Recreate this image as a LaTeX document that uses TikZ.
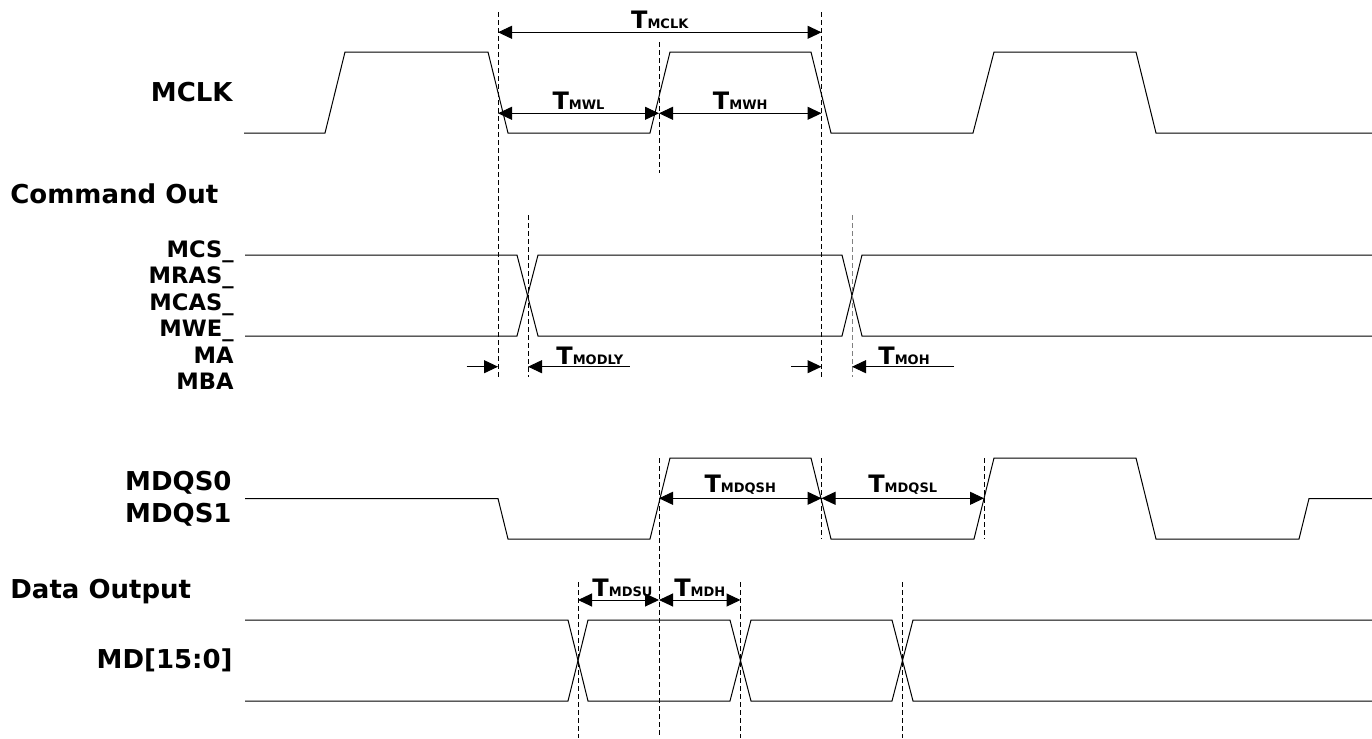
\documentclass[tikz,border=0pt]{standalone}
\usepackage{fontspec}
\setmainfont{DejaVu Sans}
\usetikzlibrary{arrows.meta}
\newcommand{\tlabel}[1]{{\fontsize{12}{12}\selectfont T}{\fontsize{6.5}{6.5}\selectfont #1}}

\begin{document}
\begin{tikzpicture}[x=0.5pt,y=-0.5pt,>={Triangle[length=7pt,width=6.5pt]},font=\bfseries]

    % Define styles
    \tikzstyle{wave} = [line width=0.5pt, line join=miter]
    \tikzstyle{guide} = [line width=0.5pt, dash pattern=on 2.5pt off 1.5pt]
    \tikzstyle{biglabel} = [anchor=base east, inner sep=0, font=\fontsize{13}{13}\selectfont\bfseries]
    \tikzstyle{smalllabel} = [anchor=base east, inner sep=0, font=\fontsize{11.3}{11.3}\selectfont\bfseries]
    \tikzstyle{timing} = [line width=0.5pt]
    \tikzstyle{tlab} = [inner sep=0, above=1.5pt]

    \useasboundingbox (0,0) rectangle (1372,739);

    % Signal names
    \node[biglabel] (mclk) at (233,101.7) {MCLK};
    \node[biglabel, anchor=base west] (cmdout) at (10,203) {Command Out};
    \node[smalllabel] (mcs) at (234,257) {MCS\_};
    \node[smalllabel] (mras) at (234,283.5) {MRAS\_};
    \node[smalllabel] (mcas) at (234,310) {MCAS\_};
    \node[smalllabel] (mwe) at (234,336.5) {MWE\_};
    \node[smalllabel] (ma) at (234,363) {MA};
    \node[smalllabel] (mba) at (234,389.5) {MBA};
    \node[biglabel] (mdqs0) at (232,490) {MDQS0};
    \node[biglabel] (mdqs1) at (232,522.7) {MDQS1};
    \node[biglabel, anchor=base west] (dataout) at (10,598) {Data Output};
    \node[biglabel] (md) at (233,668) {MD[15:0]};

    % Waveforms
    \draw[wave] (244,133) -- (325,133) -- (345,52) -- (488,52) -- (508,133) -- (650,133) -- (670,52) -- (811,52) -- (831,133) -- (973,133) -- (994,52) -- (1136,52) -- (1156,133) -- (1372,133);
    \draw[wave] (245,255) -- (517,255) -- (538,336) -- (842,336) -- (862,255) -- (1372,255);
    \draw[wave] (245,336) -- (517,336) -- (538,255) -- (842,255) -- (862,336) -- (1372,336);
    \draw[wave] (245,498.5) -- (498,498.5) -- (508,539) -- (650,539) -- (670,458) -- (811,458) -- (831,539) -- (974,539) -- (994,458) -- (1136,458) -- (1156,539) -- (1299,539) -- (1309,498.5) -- (1372,498.5);
    \draw[wave] (245,620) -- (568,620) -- (588,701) -- (730,701) -- (751,620) -- (892,620) -- (913,701) -- (1372,701);
    \draw[wave] (245,701) -- (568,701) -- (588,620) -- (730,620) -- (751,701) -- (892,701) -- (913,620) -- (1372,620);

    % Reference lines
    \draw[guide] (498,12) -- (498,377);
    \draw[guide] (659,42) -- (659,173);
    \draw[guide] (821.5,12) -- (821.5,378);
    \draw[guide] (528,215) -- (528,377);
    \draw[guide, gray] (852,215) -- (852,377);
    \draw[guide] (659,458) -- (659,738);
    \draw[guide] (821.5,458) -- (821.5,539);
    \draw[guide] (984,458) -- (984,539);
    \draw[guide] (578,582) -- (578,738);
    \draw[guide] (740.5,582) -- (740.5,738);
    \draw[guide] (902.5,582) -- (902.5,738);

    % Timing points
    \coordinate (clkA) at (498,32.3);
    \coordinate (clkB) at (821.5,32.3);
    \coordinate (wA) at (498,113.3);
    \coordinate (wB) at (659,113.3);
    \coordinate (wC) at (821.5,113.3);
    \coordinate (dlyS) at (466.5,366.7);
    \coordinate (dlyA) at (498,366.7);
    \coordinate (dlyB) at (528,366.7);
    \coordinate (dlyE) at (629.5,366.7);
    \coordinate (ohS) at (791,366.7);
    \coordinate (ohA) at (821.5,366.7);
    \coordinate (ohB) at (852,366.7);
    \coordinate (ohE) at (954,366.7);
    \coordinate (qsA) at (659,498.3);
    \coordinate (qsB) at (821.5,498.3);
    \coordinate (qsC) at (984,498.3);
    \coordinate (suA) at (578,600);
    \coordinate (suB) at (659,600);
    \coordinate (suC) at (740.5,600);

    % Timing arrows
    \draw[timing,<->] (clkA) -- node[tlab] (tmclk) {\tlabel{MCLK}} (clkB);
    \draw[timing,<->] (wA) -- node[tlab] (tmwl) {\tlabel{MWL}} (wB);
    \draw[timing,<->] (wB) -- node[tlab] (tmwh) {\tlabel{MWH}} (wC);
    \draw[timing,->] (dlyS) -- (dlyA);
    \draw[timing,->] (dlyE) -- (dlyB);
    \node[anchor=base west, inner sep=0] (tmodly) at (556,364) {\tlabel{MODLY}};
    \draw[timing,->] (ohS) -- (ohA);
    \draw[timing,->] (ohE) -- (ohB);
    \node[anchor=base west, inner sep=0] (tmoh) at (878,364) {\tlabel{MOH}};
    \draw[timing,<->] (qsA) -- node[tlab] (tmdqsh) {\tlabel{MDQSH}} (qsB);
    \draw[timing,<->] (qsB) -- node[tlab] (tmdqsl) {\tlabel{MDQSL}} (qsC);
    \draw[timing,<->] (suA) -- node[tlab, xshift=2pt] (tmdsu) {\tlabel{MDSU}} (suB);
    \draw[timing,<->] (suB) -- node[tlab] (tmdh) {\tlabel{MDH}} (suC);

\end{tikzpicture}
\end{document}
